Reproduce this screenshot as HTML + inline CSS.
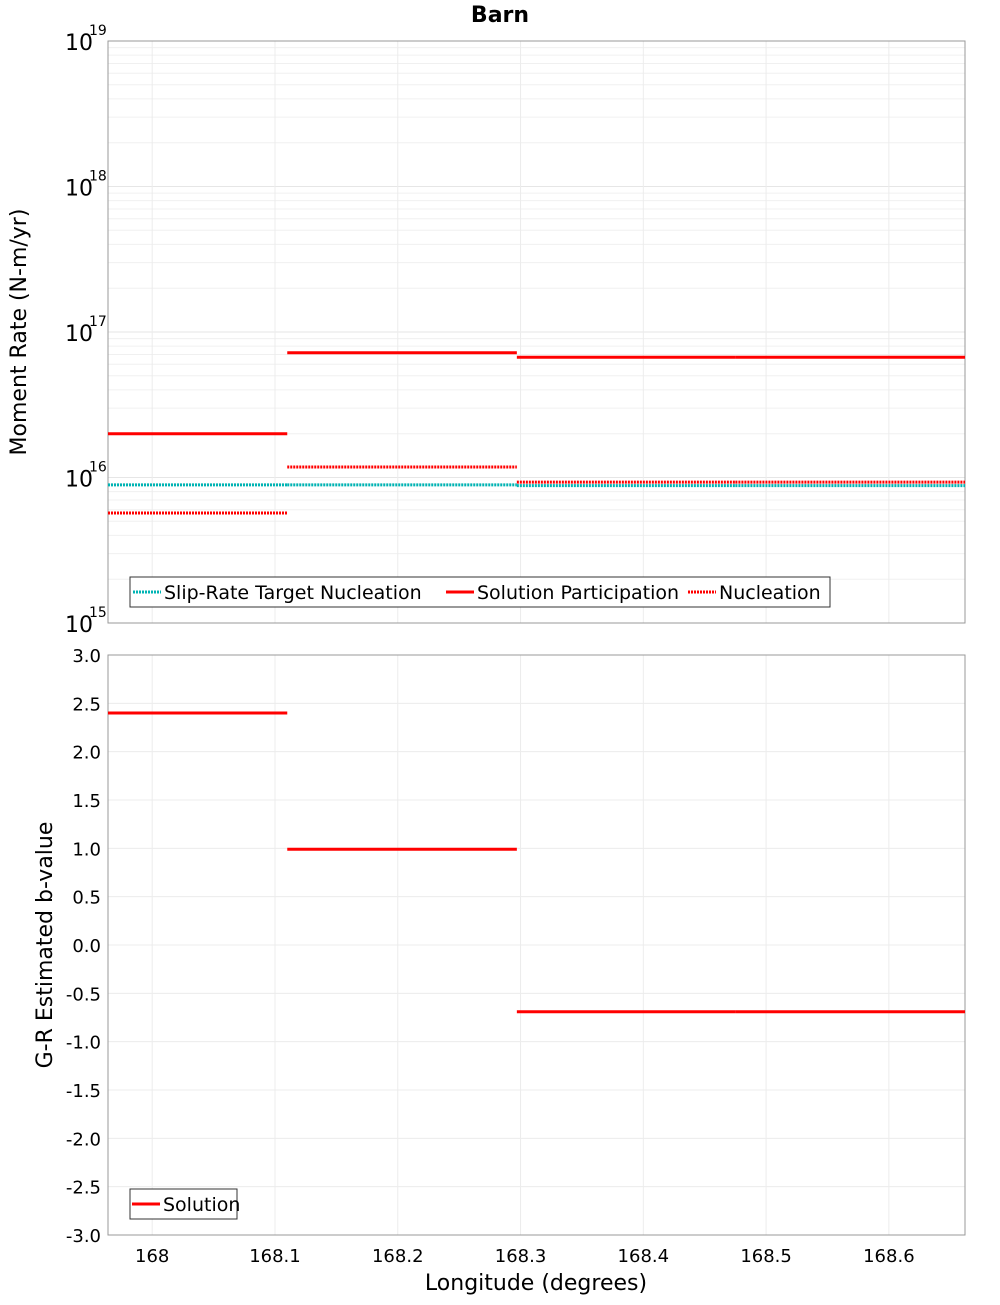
<!DOCTYPE html>
<html><head><meta charset="utf-8"><style>
body{margin:0;background:#fff;width:1000px;height:1300px;overflow:hidden}
svg{font-family:"DejaVu Sans","Liberation Sans",sans-serif}
</style></head><body>
<svg id="chart" width="1000" height="1300" xmlns="http://www.w3.org/2000/svg">
<text x="500" y="22" text-anchor="middle" font-size="22" font-weight="bold">Barn</text>
<g id="topPlot"></g>
<g id="botPlot"></g>
<text transform="translate(26,332) rotate(-90)" text-anchor="middle" font-size="22">Moment Rate (N-m/yr)</text>
<text transform="translate(52,945) rotate(-90)" text-anchor="middle" font-size="22">G-R Estimated b-value</text>
<text x="536" y="1290" text-anchor="middle" font-size="22">Longitude (degrees)</text>
</svg>
<script>
const segEdges=[167.964,168.11,168.297,168.475,168.662];
const targetNucleation=[8.9e15,8.9e15,8.8e15,8.8e15];
const solutionParticipation=[2.0e16,7.2e16,6.7e16,6.7e16];
const nucleation=[5.7e15,1.18e16,9.3e15,9.3e15];
const bValues=[2.4,0.99,-0.69,-0.69];
const xTicks=[168,168.1,168.2,168.3,168.4,168.5,168.6];
const xTickLabels=["168","168.1","168.2","168.3","168.4","168.5","168.6"];
const bTicks=[3,2.5,2,1.5,1,0.5,0,-0.5,-1,-1.5,-2,-2.5,-3];
const decades=[15,16,17,18,19];

const NS="http://www.w3.org/2000/svg";
const L=108,R=965,T1=41,B1=623,T2=655,B2=1235;
const xMin=167.964,xMax=168.662;
const X=v=>L+(v-xMin)/(xMax-xMin)*(R-L);
const Y1=v=>B1-(Math.log10(v)-15)/4*(B1-T1);
const Y2=v=>B2-(v+3)/6*(B2-T2);
function mk(p,tag,a,txt){const e=document.createElementNS(NS,tag);for(const k in a)e.setAttribute(k,a[k]);if(txt!==undefined)e.textContent=txt;p.appendChild(e);return e;}
const topG=document.getElementById('topPlot'),botG=document.getElementById('botPlot');
for(let d=15;d<19;d++)for(let m=1;m<10;m++){const y=Y1(m*Math.pow(10,d));const g=mk(topG,'line',{x1:L,x2:R,y1:y,y2:y,stroke:m==1?'#e6e6e6':'#f0f0f0','stroke-width':1});

}
xTicks.forEach((t,i)=>{[topG,botG].forEach((p,j)=>{const g=mk(p,'line',{x1:X(t),x2:X(t),y1:j?T2:T1,y2:j?B2:B1,stroke:'#ececec'});

});
const tl=mk(botG,'text',{x:X(t),y:1262,'text-anchor':'middle','font-size':18},xTickLabels[i]);

});
bTicks.forEach(t=>{const y=Y2(t);const g=mk(botG,'line',{x1:L,x2:R,y1:y,y2:y,stroke:'#ececec'});


const tl=mk(botG,'text',{x:101,y:y+7,'text-anchor':'end','font-size':18},t.toFixed(1));

});
decades.forEach(d=>{const y=Y1(Math.pow(10,d));const tl=mk(topG,'text',{x:65,y:y+9,'font-size':22},'10');


const s=mk(topG,'text',{x:89,y:y-6,'font-size':14},String(d));

});
[[T1,B1],[T2,B2]].forEach(([a,b],i)=>{const r=mk(i?botG:topG,'rect',{x:L,y:a,width:R-L,height:b-a,fill:'none',stroke:'#999'});

});
function series(p,vals,Yf,color,dash,name){vals.forEach((v,i)=>{const a={x1:X(segEdges[i]),x2:X(segEdges[i+1]),y1:Yf(v),y2:Yf(v),stroke:color,'stroke-width':3};if(dash)a['stroke-dasharray']=dash;const l=mk(p,'line',a);

});}
series(topG,targetNucleation,Y1,'#00b4b4','2 1','target-nucleation-segment');
series(topG,nucleation,Y1,'#ff0000','2 1','nucleation-segment');
series(topG,solutionParticipation,Y1,'#ff0000',null,'solution-participation-segment');
series(botG,bValues,Y2,'#ff0000',null,'b-value-segment');
function legend(p,x,y,w,items,name){const g=mk(p,'g',{});


mk(g,'rect',{x:x,y:y,width:w,height:30,fill:'#fff',stroke:'#333'});
items.forEach(it=>{const a={x1:it.x,x2:it.x+28,y1:y+15,y2:y+15,stroke:it.c,'stroke-width':3};if(it.d)a['stroke-dasharray']=it.d;mk(g,'line',a);mk(g,'text',{x:it.x+31,y:y+22,'font-size':19},it.t);});}
legend(topG,130,577,700,[{x:133,c:'#00b4b4',d:'2 1',t:'Slip-Rate Target Nucleation'},{x:446,c:'#ff0000',t:'Solution Participation'},{x:688,c:'#ff0000',d:'2 1',t:'Nucleation'}],'top-legend');
legend(botG,130,1189,107,[{x:132,c:'#ff0000',t:'Solution'}],'bottom-legend');
</script>
</body></html>
